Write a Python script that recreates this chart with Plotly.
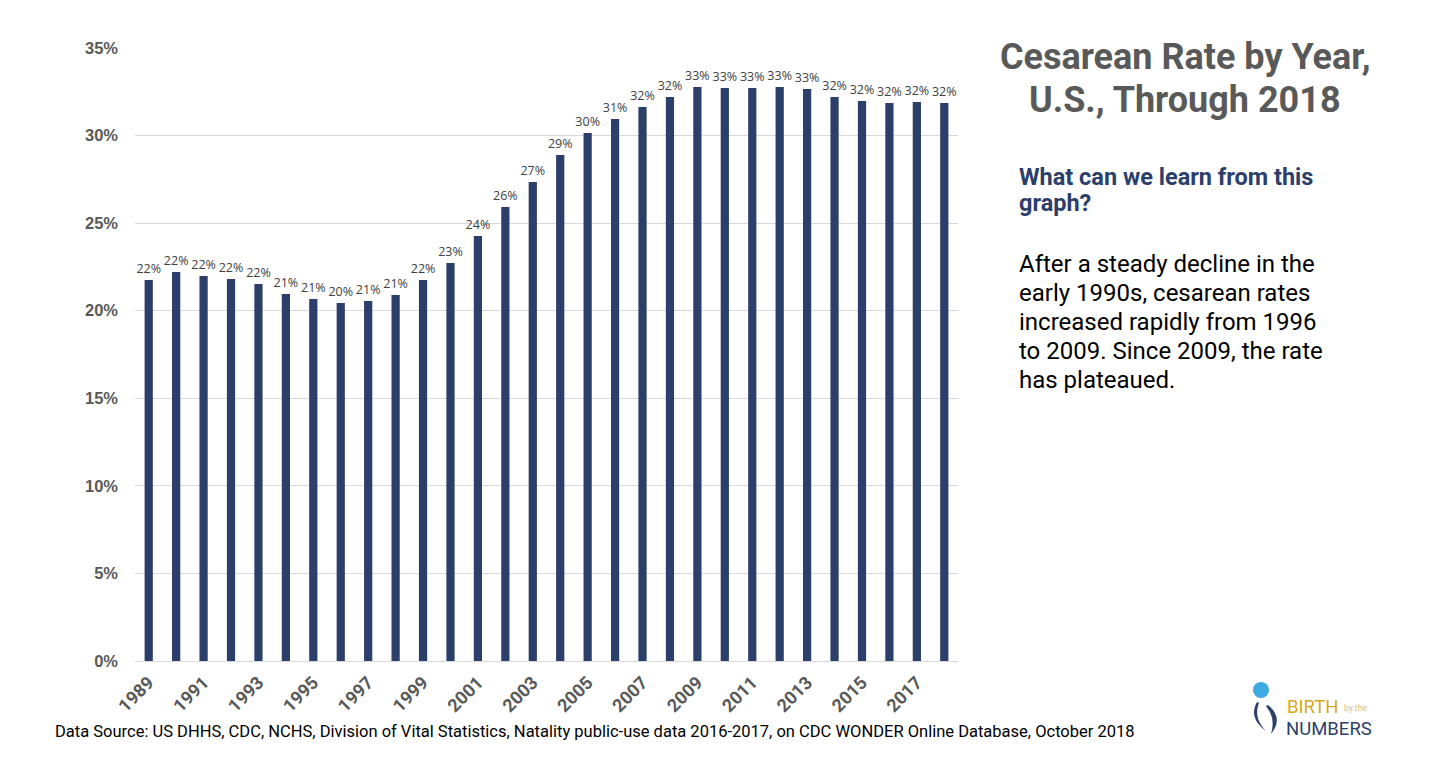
import plotly.graph_objects as go

years = [str(y) for y in range(1989, 2019)]
rates = [21.75, 22.21, 21.98, 21.81, 21.53, 20.96, 20.67, 20.44, 20.55, 20.90,
         21.75, 22.72, 24.27, 25.92, 27.35, 28.89, 30.15, 30.95, 31.63, 32.20,
         32.77, 32.72, 32.72, 32.77, 32.66, 32.20, 31.97, 31.86, 31.92, 31.86]
tick_years = [str(y) for y in range(1989, 2019, 2)]
y_ticks = [0, 5, 10, 15, 20, 25, 30, 35]

title_lines = ["Cesarean Rate by Year,", "U.S., Through 2018"]
question = ["What can we learn from this", "graph?"]
body = ["After a steady decline in the", "early 1990s, cesarean rates",
        "increased rapidly from 1996", "to 2009. Since 2009, the rate", "has plateaued."]
source = ("Data Source: US DHHS, CDC, NCHS, Division of Vital Statistics, Natality public-use "
          "data 2016-2017, on CDC WONDER Online Database, October 2018")

W, H = 1438, 762
OFF = 8  # page body margin
L, R, T, B = 135, 958, 48, 661  # plot area in screen coords


def px(x):
    return (x - L) / (R - L)


def py(y):
    return (B - y) / (B - T)


fig = go.Figure()
fig.add_trace(go.Bar(
    x=years, y=rates,
    marker=dict(color="#2c3f6b", line=dict(width=0)),
    width=0.3,
    text=[f"{round(v):d}%" for v in rates],
    textposition="outside",
    constraintext="none",
    textfont=dict(family="Open Sans", size=12.5, color="#404040"),
    cliponaxis=False,
    hoverinfo="x+y",
))

ann = []
for i, t in enumerate(title_lines):
    ann.append(dict(x=px(1185), y=py(57 + i * 43), xref="paper", yref="paper", text=t,
                    showarrow=False, xanchor="center", yanchor="middle",
                    font=dict(family="Roboto", size=36, color="#595959", weight="bold")))
for i, t in enumerate(question):
    ann.append(dict(x=px(1017), y=py(177 + i * 26), xref="paper", yref="paper", text=t,
                    showarrow=False, xanchor="left", yanchor="middle",
                    font=dict(family="Roboto", size=23.5, color="#2c3f6b", weight="bold")))
for i, t in enumerate(body):
    ann.append(dict(x=px(1017), y=py(264 + i * 29), xref="paper", yref="paper", text=t,
                    showarrow=False, xanchor="left", yanchor="middle",
                    font=dict(family="Roboto", size=24, color="#000000")))
ann.append(dict(x=px(53), y=py(731), xref="paper", yref="paper", text=source,
                showarrow=False, xanchor="left", yanchor="middle",
                font=dict(family="Roboto", size=16.5, color="#000000")))
# logo text
ann.append(dict(x=px(1286), y=py(707), xref="paper", yref="paper", text="BIRTH",
                showarrow=False, xanchor="left", yanchor="middle", borderpad=0,
                font=dict(family="Roboto", size=18.5, color="#d4a81c")))
ann.append(dict(x=px(1343), y=py(714), xref="paper", yref="paper", text="by the",
                showarrow=False, xanchor="left", yanchor="bottom", borderpad=0,
                font=dict(family="Roboto", size=8.5, color="#d9c27a")))
ann.append(dict(x=px(1285), y=py(729), xref="paper", yref="paper", text="NUMBERS",
                showarrow=False, xanchor="left", yanchor="middle", borderpad=0,
                font=dict(family="Roboto", size=18.5, color="#2c3f6b")))

shapes = [
    dict(type="circle", xref="paper", yref="paper",
         x0=px(1253), x1=px(1269), y0=py(698), y1=py(682),
         fillcolor="#3fa9e2", line=dict(width=0)),
    dict(type="path", xref="paper", yref="paper",
         path=(f"M {px(1257)} {py(702)} Q {px(1248)} {py(718)} {px(1266)} {py(731)} "
               f"Q {px(1253)} {py(718)} {px(1259)} {py(703)} Z"),
         fillcolor="#2c3f6b", line=dict(width=0)),
    dict(type="path", xref="paper", yref="paper",
         path=(f"M {px(1268)} {py(705)} Q {px(1284)} {py(718)} {px(1271)} {py(734)} "
               f"Q {px(1276)} {py(718)} {px(1266)} {py(706)} Z"),
         fillcolor="#2c3f6b", line=dict(width=0)),
]

fig.update_layout(
    width=W, height=H,
    margin=dict(l=L - OFF, r=W - (R - OFF), t=T - OFF, b=H - (B - OFF), pad=0),
    paper_bgcolor="white", plot_bgcolor="white",
    showlegend=False,
    annotations=ann, shapes=shapes,
    xaxis=dict(type="category", tickvals=tick_years, ticktext=tick_years,
               tickangle=-45, showgrid=False, ticks="", ticklabelstandoff=3,
               showline=True, linecolor="#d9d9d9", linewidth=1,
               tickfont=dict(family="Roboto", size=18, color="#595959", weight="bold")),
    yaxis=dict(range=[0, 35], tickvals=y_ticks, ticktext=[f"{v}%" for v in y_ticks],
               showgrid=True, gridcolor="#d9d9d9", gridwidth=1, zeroline=False,
               ticks="", ticklabelstandoff=16,
               tickfont=dict(family="Liberation Sans", size=16.5, color="#595959", weight="bold")),
)

fig.write_html("out.html")
